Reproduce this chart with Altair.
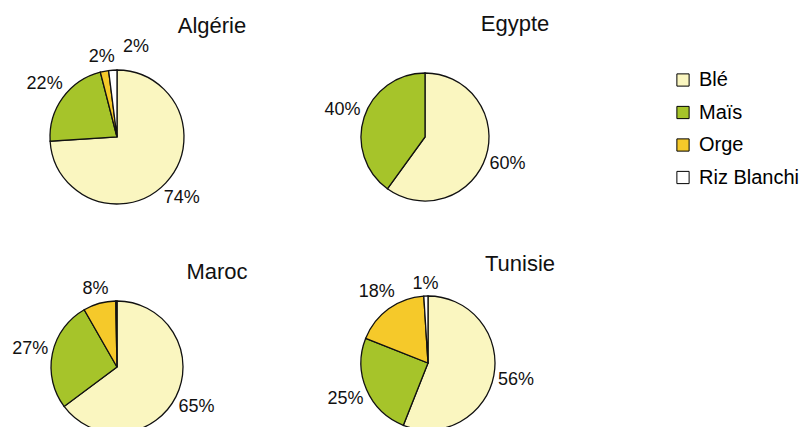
import altair as alt
import pandas as pd

countries = ["Algérie", "Egypte", "Maroc", "Tunisie"]
crops = ["Blé", "Maïs", "Orge", "Riz Blanchi"]
algerie = [74, 22, 2, 2]
egypte = [60, 40, 0, 0]
maroc = [65, 27, 8, 0.3]
tunisie = [56, 25, 18, 1]
colors = ["#FAF6C0", "#A6C42A", "#F5C92A", "#FFFFFF"]

series = [algerie, egypte, maroc, tunisie]
rows = []
for c, vals in zip(countries, series):
    for i, (crop, v) in enumerate(zip(crops, vals)):
        rows.append({"country": c, "crop": crop, "value": v, "idx": i})
df = pd.DataFrame(rows)

# layout: pie centre, radius, title centre
layout = {
    "Algérie": (117, 137, 67, 212, 26),
    "Egypte": (425, 137, 64, 515, 24),
    "Maroc": (117, 367, 66, 217, 272),
    "Tunisie": (428, 363, 67, 520, 264),
}

FONT = "Liberation Sans"
theta_scale = alt.Scale(domain=[0, 1], range=[0, 6.283185307179586])
color_enc = alt.Color(
    "crop:N",
    scale=alt.Scale(domain=crops, range=colors),
    legend=alt.Legend(
        title=None, orient="none", legendX=673, legendY=70,
        symbolType="square", symbolSize=150, symbolStrokeColor="#000",
        symbolStrokeWidth=1, labelFontSize=20, labelFont=FONT,
        labelColor="#000", rowPadding=12.5, labelOffset=6, padding=0,
    ),
)

layers = []
for c in countries:
    cx, cy, r, tx, ty = layout[c]
    base = (
        alt.Chart(df)
        .transform_filter(alt.datum.country == c)
        .transform_joinaggregate(total="sum(value)")
        .transform_window(cum="sum(value)", sort=[alt.SortField("idx")], frame=[None, 0])
        .transform_calculate(
            start="(datum.cum - datum.value) / datum.total",
            end="datum.cum / datum.total",
            mid="(datum.cum - datum.value / 2) / datum.total",
            label="format(datum.value, '.0f') + '%'",
        )
        .transform_calculate(
            lr=f"{r} + 5 + abs(sin(datum.mid * 2 * PI)) * length(datum.label) * 5.5"
               " + abs(cos(datum.mid * 2 * PI)) * 7"
        )
        .transform_filter(alt.datum.value > 0)
    )
    arc = base.mark_arc(radius=r, stroke="#111", strokeWidth=1.3).encode(
        theta=alt.Theta("start:Q", scale=theta_scale),
        theta2="end:Q",
        color=color_enc,
        x=alt.value(cx),
        y=alt.value(cy),
    )
    lab_base = base.transform_filter(alt.datum.value >= 0.5)
    if c == "Algérie":
        normal = lab_base.transform_filter(alt.datum.crop != "Riz Blanchi")
        special = lab_base.transform_filter(alt.datum.crop == "Riz Blanchi")
    else:
        normal = lab_base
        special = None
    txt = normal.mark_text(fontSize=18, font=FONT, color="#111").encode(
        theta=alt.Theta("mid:Q", scale=theta_scale),
        radius=alt.Radius("lr:Q", scale=None),
        text="label:N",
        x=alt.value(cx),
        y=alt.value(cy),
    )
    layers += [arc, txt]
    if special is not None:
        sp = special.mark_text(fontSize=18, font=FONT, color="#111", dx=24, dy=-10).encode(
            theta=alt.Theta("mid:Q", scale=theta_scale),
            radius=alt.Radius("lr:Q", scale=None),
            text="label:N",
            x=alt.value(cx),
            y=alt.value(cy),
        )
        layers.append(sp)
    title = alt.Chart(df).transform_filter(alt.datum.country == c).transform_aggregate(
        n="count()", groupby=["country"]
    ).mark_text(fontSize=22, font=FONT, color="#111").encode(
        text="country:N", x=alt.value(tx), y=alt.value(ty)
    )
    layers.append(title)

chart = (
    alt.layer(*layers)
    .properties(width=803, height=427, autosize=alt.AutoSizeParams(type="none"), padding=0, background="white")
    .configure_view(stroke=None)
)

chart.save("out.html", embed_options={"renderer": "svg", "actions": False})
